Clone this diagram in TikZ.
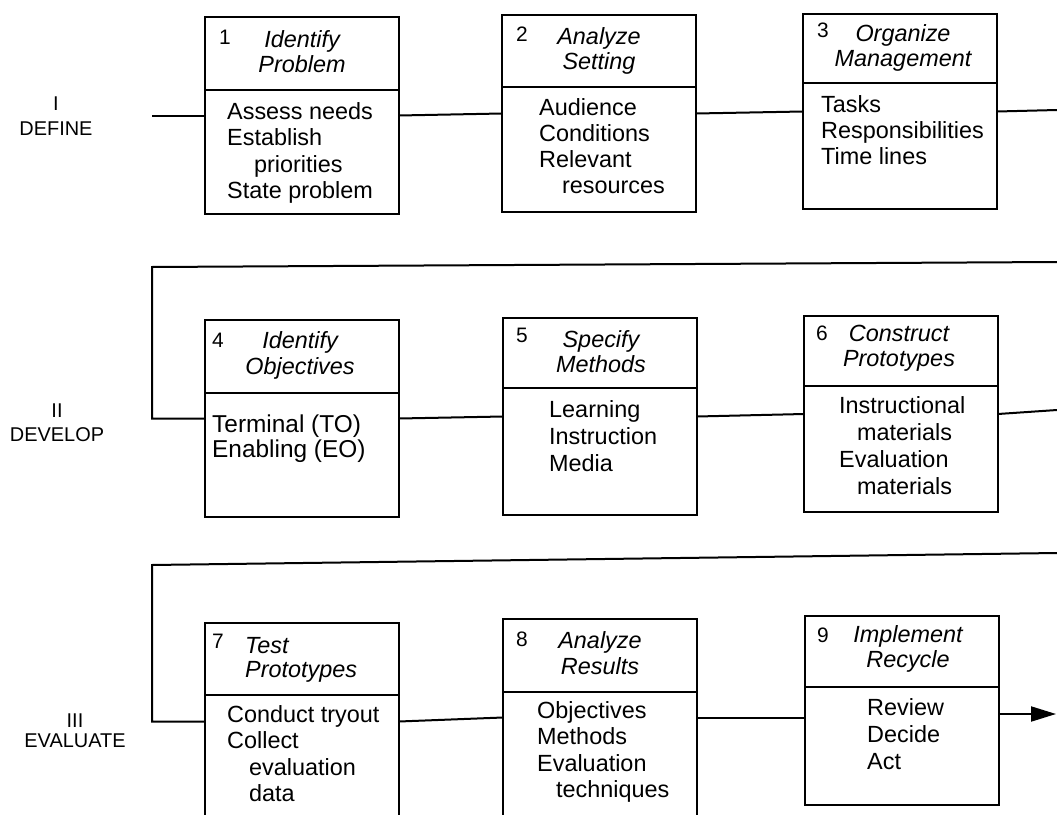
\documentclass[tikz,border=0pt]{standalone}
\usepackage{fontspec}
\setmainfont{Liberation Sans}
\usetikzlibrary{arrows.meta}

% stacked lines with a fixed baseline distance; the node baseline is the first line
\newcommand\leftstack[2]{\vtop{\baselineskip=#1\lineskiplimit=-30pt\lineskip=0pt\let\\\cr\halign{##\hfil\cr#2\crcr}}}
\newcommand\midstack[2]{\vtop{\baselineskip=#1\lineskiplimit=-30pt\lineskip=0pt\let\\\cr\halign{\hfil##\hfil\cr#2\crcr}}}

\begin{document}
\begin{tikzpicture}[x=1bp,y=-1bp,
  stagebox/.style={draw, line width=2bp, rectangle, inner sep=0pt, outer sep=0pt,
    anchor=north west, minimum width=194bp, minimum height=197bp},
  rule/.style={line width=2bp},
  link/.style={line width=2bp},
  flowarrow/.style={line width=2bp, -{Triangle[length=25bp,width=15bp]}},
  num/.style={anchor=base west, inner sep=0pt, font=\fontsize{21}{24}\selectfont},
  headtext/.style={anchor=base, inner sep=0pt, font=\fontsize{23.5}{25}\selectfont\itshape},
  bodytext/.style={anchor=base west, inner sep=0pt, font=\fontsize{23.5}{27}\selectfont},
  phase/.style={anchor=base, inner sep=0pt, font=\fontsize{20}{25}\selectfont}]

\useasboundingbox (0,0) rectangle (1057,815);
\clip (0,0) rectangle (1057,815);

% ---- stage boxes ----
\node[stagebox] (b1) at (205,17) {};
\node[stagebox] (b2) at (502,15) {};
\node[stagebox, minimum height=195bp] (b3) at (803,14) {};
\node[stagebox] (b4) at (205,320) {};
\node[stagebox] (b5) at (503,318) {};
\node[stagebox, minimum height=196bp] (b6) at (804,316) {};
\node[stagebox] (b7) at (205,623) {};
\node[stagebox] (b8) at (503,619) {};
\node[stagebox, minimum height=189bp] (b9) at (805,616) {};

% header / body dividers
\foreach \b/\d in {b1/73,b2/72,b3/69,b4/73,b5/70,b6/70,b7/72,b8/73,b9/71}
  \draw[rule] ([yshift=-\d bp]\b.north west) -- ([yshift=-\d bp]\b.north east);

% ---- phase I: define ----
\draw[link] (b1.west) -- ++(-53,0);
\draw[link] (b1.east) -- (b2.west);
\draw[link] (b2.east) -- (b3.west);
\coordinate (r1end) at (1057,110);
\draw[link] (b3.east) -- (r1end);

% ---- phase II: develop ----
\coordinate (r2in) at (1057,262);
\coordinate (r2turn) at (152,267);
\draw[link] (r2in) -- (r2turn) -- (r2turn |- b4.west) -- (b4.west);
\draw[link] (b4.east) -- (b5.west);
\draw[link] (b5.east) -- (b6.west);
\coordinate (r2end) at (1057,410);
\draw[link] (b6.east) -- (r2end);

% ---- phase III: evaluate ----
\coordinate (r3in) at (1057,553);
\coordinate (r3turn) at (152,565);
\draw[link] (r3in) -- (r3turn) -- (r3turn |- b7.west) -- (b7.west);
\draw[link] (b7.east) -- (b8.west);
\draw[link] (b8.east) -- (b8.east -| b9.west);
\coordinate (r3end) at (1056,714);
\draw[flowarrow] (r3end -| b9.east) -- (r3end);

% ---- phase labels ----
\node[phase] (p1) at (56,110) {\midstack{26pt}{I\\DEFINE}};
\node[phase] (p2) at (57,417) {\midstack{25pt}{II\\DEVELOP}};
\node[phase] (p3) at (75,727) {\midstack{21pt}{III\\EVALUATE}};

% ---- step numbers ----
\node[num] (n1) at (219,45) {1};
\node[num] (n2) at (516,42) {2};
\node[num] (n3) at (817,38) {3};
\node[num] (n4) at (212,347) {4};
\node[num] (n5) at (516,342) {5};
\node[num] (n6) at (816,340) {6};
\node[num] (n7) at (212,648) {7};
\node[num] (n8) at (516,646) {8};
\node[num] (n9) at (817,642) {9};

% ---- step titles ----
\node[headtext] (h1) at (302,48) {\midstack{25pt}{Identify\\Problem}};
\node[headtext] (h2) at (599,45) {\midstack{25pt}{Analyze\\Setting}};
\node[headtext] (h3) at (903,42) {\midstack{25pt}{Organize\\Management}};
\node[headtext] (h4) at (300,348) {\midstack{27pt}{Identify\\Objectives}};
\node[headtext] (h5) at (601,347) {\midstack{26pt}{Specify\\Methods}};
\node[headtext] (h6) at (899,341) {\midstack{26pt}{Construct\\Prototypes}};
\node[headtext, anchor=base west] (h7) at (245,653) {\leftstack{25pt}{Test\\Prototypes}};
\node[headtext] (h8) at (600,648) {\midstack{27pt}{Analyze\\Results}};
\node[headtext] (h9) at (908,642) {\midstack{26pt}{Implement\\Recycle}};

% ---- step contents ----
\node[bodytext] (d1) at (227,119) {\leftstack{26.7pt}{Assess needs\\Establish\\\hskip27pt priorities\\State problem}};
\node[bodytext] (d2) at (539,115) {\leftstack{26.4pt}{Audience\\Conditions\\Relevant\\\hskip23pt resources}};
\node[bodytext] (d3) at (821,112) {\leftstack{26.5pt}{Tasks\\Responsibilities\\Time lines}};
\node[bodytext, font=\fontsize{24.5}{27}\selectfont] (d4) at (212,432) {\leftstack{25.5pt}{Terminal (TO)\\Enabling (EO)}};
\node[bodytext] (d5) at (549,417) {\leftstack{27.5pt}{Learning\\Instruction\\Media}};
\node[bodytext] (d6) at (839,413) {\leftstack{27.3pt}{Instructional\\\hskip18pt materials\\Evaluation\\\hskip18pt materials}};
\node[bodytext] (d7) at (227,722) {\leftstack{26.7pt}{Conduct tryout\\Collect\\\hskip22pt evaluation\\\hskip22pt data}};
\node[bodytext] (d8) at (537,718) {\leftstack{26.7pt}{Objectives\\Methods\\Evaluation\\\hskip19pt techniques}};
\node[bodytext] (d9) at (867,715) {\leftstack{27.5pt}{Review\\Decide\\Act}};

\end{tikzpicture}
\end{document}
